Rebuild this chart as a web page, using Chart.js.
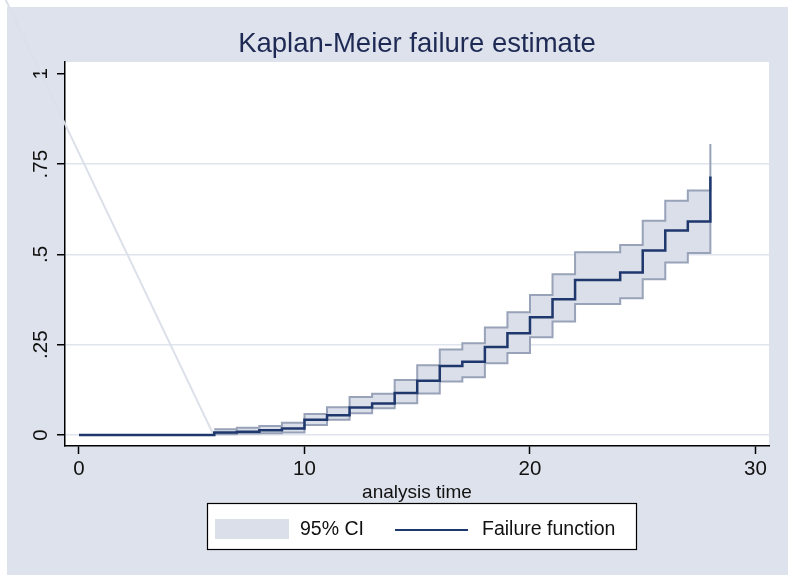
<!DOCTYPE html>
<html>
<head>
<meta charset="utf-8">
<script src="https://cdn.jsdelivr.net/npm/chart.js@4.4.1/dist/chart.umd.min.js"></script>
<style>
  html, body { margin: 0; padding: 0; background: #fff; }
  canvas { display: block; }
</style>
</head>
<body>
<canvas id="kmChart" width="788" height="575"></canvas>
<script>
// Kaplan-Meier failure function (step times and values)
const times   = [0, 6, 7, 8, 9, 10, 11, 12, 13, 14, 15, 16, 17, 18, 19, 20, 21, 22, 24, 25, 26, 27, 28];
const failure = [0, 0.007, 0.009, 0.013, 0.018, 0.042, 0.055, 0.076, 0.087, 0.116, 0.150, 0.191, 0.203, 0.244, 0.282, 0.326, 0.376, 0.429, 0.450, 0.511, 0.566, 0.591, 0.716];

// 95% confidence band
const ciTimes = [6, 7, 8, 9, 10, 11, 12, 13, 14, 15, 16, 17, 18, 19, 20, 21, 22, 24, 25, 26, 27, 28];
const ciUpper = [0.016, 0.020, 0.025, 0.034, 0.058, 0.077, 0.105, 0.114, 0.152, 0.193, 0.237, 0.254, 0.298, 0.340, 0.388, 0.445, 0.506, 0.526, 0.593, 0.649, 0.677, 0.806];
const ciLower = [0.002, 0.004, 0.005, 0.007, 0.028, 0.042, 0.060, 0.074, 0.088, 0.115, 0.148, 0.160, 0.199, 0.227, 0.271, 0.314, 0.363, 0.379, 0.431, 0.478, 0.504, 0.620];

// faint diagonal stroke that runs across the scan
const guideX = [5.93, -3.4];
const guideY = [0.005, 1.225];

const xTicks = [0, 10, 20, 30];
const yTicks = [0, 0.25, 0.5, 0.75, 1];
const yTickLabels = ['0', '.25', '.5', '.75', '1'];

const seriesLabels = ['95% CI', 'Failure function'];
const titleText = 'Kaplan-Meier failure estimate';

const bgColor = 'rgb(221,226,237)';
const gridColor = 'rgb(224,228,237)';
const ciFill = 'rgb(219,223,233)';
const ciEdge = 'rgb(152,162,184)';
const navy = 'rgb(30,55,108)';

Chart.defaults.font.family = '"Liberation Sans", Arial, Helvetica, sans-serif';

const pts = (xs, ys) => xs.map((x, i) => ({ x: x, y: ys[i] }));

// background: white scan margin, bluish-gray graph region, white plot region
const bgPlugin = {
  id: 'bg',
  beforeDraw(chart) {
    const c = chart.ctx, a = chart.chartArea;
    c.save();
    c.fillStyle = '#fff';
    c.fillRect(0, 0, chart.width, chart.height);
    c.fillStyle = bgColor;
    c.fillRect(7, 7, chart.width - 7, chart.height - 7);
    c.fillStyle = '#fff';
    c.fillRect(a.left, a.top, a.right - a.left, a.bottom - a.top);
    c.restore();
  }
};

// title and boxed legend, Stata style
const textPlugin = {
  id: 'texts',
  afterDraw(chart) {
    const c = chart.ctx, a = chart.chartArea;
    c.save();
    c.fillStyle = 'rgb(30,42,84)';
    c.font = '27.5px "Liberation Sans", Arial, sans-serif';
    c.textAlign = 'center';
    c.textBaseline = 'middle';
    c.fillText(titleText, (a.left + a.right) / 2, 44);

    // legend box
    c.fillStyle = '#fff';
    c.fillRect(207, 503, 429, 46);
    c.strokeStyle = '#000';
    c.lineWidth = 1.2;
    c.strokeRect(207.5, 503.5, 429, 46);

    c.fillStyle = ciFill;
    c.fillRect(215, 519, 74, 20);
    c.strokeStyle = navy;
    c.lineWidth = 2;
    c.beginPath();
    c.moveTo(395, 530);
    c.lineTo(468, 530);
    c.stroke();

    c.fillStyle = '#111';
    c.font = '19.5px "Liberation Sans", Arial, sans-serif';
    c.textAlign = 'left';
    c.fillText(seriesLabels[0], 300, 530);
    c.fillText(seriesLabels[1], 482, 530);
    c.restore();
  }
};

const ctx = document.getElementById('kmChart').getContext('2d');
const kmChart = new Chart(ctx, {
  type: 'line',
  data: {
    datasets: [
      {
        label: seriesLabels[1],
        data: pts(times, failure),
        stepped: true,
        borderColor: navy,
        borderWidth: 2.5,
        fill: false,
        order: 0
      },
      {
        label: seriesLabels[0] + ' upper',
        data: pts(ciTimes, ciUpper),
        stepped: true,
        borderColor: ciEdge,
        borderWidth: 2,
        backgroundColor: ciFill,
        fill: '+1',
        order: 2
      },
      {
        label: seriesLabels[0] + ' lower',
        data: pts(ciTimes, ciLower),
        stepped: true,
        borderColor: ciEdge,
        borderWidth: 2,
        fill: false,
        order: 1
      },
      {
        label: 'scan stroke',
        data: pts(guideX, guideY),
        borderColor: 'rgb(220,224,233)',
        borderWidth: 2,
        fill: false,
        clip: false,
        order: 3
      }
    ]
  },
  options: {
    responsive: false,
    animation: false,
    layout: { padding: { left: 0, top: 62, right: 19, bottom: 0 } },
    elements: { point: { radius: 0 } },
    plugins: {
      legend: { display: false },
      title: { display: false },
      tooltip: { enabled: false }
    },
    scales: {
      x: {
        type: 'linear',
        min: -0.62,
        max: 30.6,
        afterBuildTicks: (s) => { s.ticks = xTicks.map(v => ({ value: v })); },
        afterFit: (s) => { s.height = 129; },
        grid: { drawOnChartArea: false, tickLength: 8, tickColor: '#000', tickWidth: 1.5 },
        border: { color: '#000', width: 1.5 },
        ticks: { color: '#111', font: { size: 20.5 }, padding: 3, maxRotation: 0, autoSkip: false },
        title: {
          display: true,
          text: 'analysis time',
          color: '#111',
          font: { size: 19, lineHeight: 1.2 },
          padding: { top: 0, bottom: 71 }
        }
      },
      y: {
        type: 'linear',
        min: -0.0305,
        max: 1.033,
        afterBuildTicks: (s) => { s.ticks = yTicks.map(v => ({ value: v })); },
        afterFit: (s) => { s.width = 65; },
        grid: {
          color: (c) => (c.tick && c.tick.value === 1 ? 'rgba(0,0,0,0)' : gridColor),
          lineWidth: 1.5,
          tickLength: 8,
          tickColor: '#000',
          tickWidth: 1.5
        },
        border: { color: '#000', width: 1.5 },
        ticks: {
          color: '#111',
          font: { size: 20.5 },
          padding: 1,
          crossAlign: 'center',
          minRotation: 90,
          maxRotation: 90,
          autoSkip: false,
          callback: (v) => yTickLabels[yTicks.indexOf(v)]
        }
      }
    }
  },
  plugins: [bgPlugin, textPlugin]
});
</script>
</body>
</html>
